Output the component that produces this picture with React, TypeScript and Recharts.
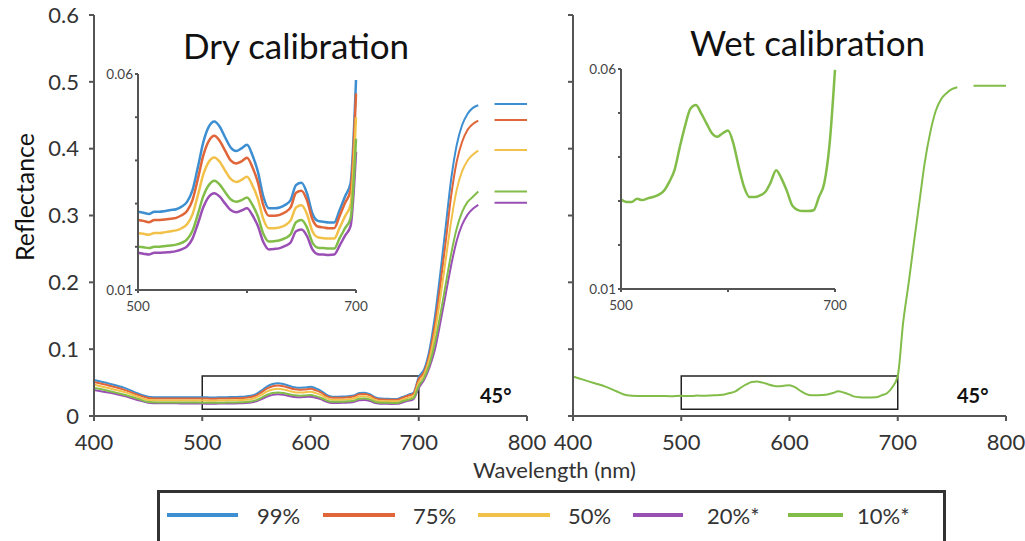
import { LineChart, Line, XAxis, YAxis, ReferenceArea } from "recharts";

// wavelength grid (nm); 762 is the gap in the measured curve
const wavelengths = [
  400, 410, 420, 430, 440, 450, 460, 470, 480, 490,
  500, 505, 510, 515, 520, 525, 530, 535, 540, 545, 550, 555, 560, 565, 570, 575, 580, 585, 590, 595,
  600, 605, 610, 615, 620, 625, 630, 635, 640, 645, 650, 655, 660, 665, 670, 675, 680, 685, 690, 695, 700,
  705, 710, 715, 720, 725, 730, 735, 740, 745, 750, 755,
  762, 770, 785, 800,
];

const dry99 = [
  0.054, 0.05, 0.046, 0.041, 0.034, 0.029, 0.028, 0.028, 0.028, 0.028,
  0.0281, 0.0279, 0.0276, 0.0281, 0.0281, 0.0283, 0.0285, 0.0287, 0.0293, 0.0304,
  0.0331, 0.0385, 0.0443, 0.0478, 0.049, 0.0478, 0.0453, 0.043, 0.0422, 0.0428,
  0.0436, 0.0412, 0.0374, 0.0316, 0.0289, 0.0289, 0.0291, 0.0297, 0.0308, 0.0343,
  0.0348, 0.0324, 0.0277, 0.026, 0.0258, 0.0256, 0.0256, 0.0285, 0.0317, 0.0347, 0.0586,
  0.07, 0.1, 0.15, 0.215, 0.285, 0.355, 0.405, 0.435, 0.452, 0.461, 0.465,
  null, 0.467, 0.467, 0.467,
];

const dry75 = [
  0.051, 0.047, 0.043, 0.038, 0.032, 0.027, 0.026, 0.026, 0.026, 0.026,
  0.0262, 0.026, 0.0257, 0.0262, 0.0262, 0.0263, 0.0265, 0.0267, 0.0273, 0.0283,
  0.0308, 0.0358, 0.0412, 0.0445, 0.0457, 0.0445, 0.0422, 0.04, 0.0393, 0.0398,
  0.0406, 0.0384, 0.0349, 0.0296, 0.0272, 0.0272, 0.0274, 0.028, 0.0291, 0.0325,
  0.033, 0.0308, 0.0264, 0.0247, 0.0245, 0.0243, 0.0243, 0.0272, 0.0302, 0.033, 0.0555,
  0.066, 0.093, 0.138, 0.197, 0.262, 0.33, 0.38, 0.41, 0.428, 0.437, 0.442,
  null, 0.443, 0.443, 0.443,
];

const dry50 = [
  0.047, 0.043, 0.039, 0.035, 0.029, 0.024, 0.0233, 0.0233, 0.0233, 0.0232,
  0.0232, 0.023, 0.0228, 0.0232, 0.0232, 0.0234, 0.0236, 0.0238, 0.0243, 0.0252,
  0.0275, 0.032, 0.0368, 0.0397, 0.0407, 0.0397, 0.0376, 0.0357, 0.035, 0.0355,
  0.0362, 0.0342, 0.0311, 0.0264, 0.0243, 0.0243, 0.0245, 0.025, 0.0261, 0.0291,
  0.0296, 0.0276, 0.0236, 0.0222, 0.022, 0.0219, 0.0219, 0.0244, 0.0271, 0.0297, 0.05,
  0.062, 0.086, 0.125, 0.178, 0.235, 0.292, 0.338, 0.366, 0.382, 0.391, 0.397,
  null, 0.398, 0.398, 0.398,
];

const dry20 = [
  0.039, 0.036, 0.033, 0.029, 0.024, 0.02, 0.019, 0.019, 0.0188, 0.0187,
  0.0186, 0.0184, 0.0182, 0.0186, 0.0186, 0.0187, 0.0188, 0.019, 0.0194, 0.0201,
  0.0219, 0.0254, 0.0292, 0.0316, 0.0324, 0.0316, 0.03, 0.0285, 0.028, 0.0284,
  0.0289, 0.0273, 0.0248, 0.0211, 0.0194, 0.0195, 0.0197, 0.0202, 0.021, 0.0236,
  0.024, 0.0225, 0.0194, 0.0183, 0.0182, 0.0181, 0.0182, 0.0203, 0.0226, 0.0248, 0.042,
  0.054, 0.073, 0.1, 0.14, 0.183, 0.226, 0.262, 0.286, 0.301, 0.31, 0.316,
  null, 0.319, 0.319, 0.319,
];

const dry10 = [
  0.042, 0.039, 0.035, 0.031, 0.026, 0.021, 0.0203, 0.0202, 0.0202, 0.0201,
  0.02, 0.0199, 0.0197, 0.02, 0.02, 0.0202, 0.0203, 0.0205, 0.0209, 0.0217,
  0.0237, 0.0276, 0.0318, 0.0343, 0.0353, 0.0344, 0.0326, 0.031, 0.0304, 0.0308,
  0.0314, 0.0297, 0.027, 0.023, 0.0212, 0.0213, 0.0215, 0.022, 0.0229, 0.0257,
  0.0262, 0.0245, 0.021, 0.0198, 0.0197, 0.0196, 0.0196, 0.022, 0.0243, 0.0266, 0.045,
  0.057, 0.078, 0.11, 0.152, 0.198, 0.243, 0.28, 0.305, 0.32, 0.328, 0.336,
  null, 0.336, 0.336, 0.336,
];

const wet10 = [
  0.059, 0.054, 0.049, 0.044, 0.037, 0.031, 0.03, 0.0298, 0.03, 0.0296,
  0.0303, 0.0298, 0.0298, 0.0305, 0.0302, 0.0306, 0.0309, 0.0314, 0.0323, 0.0343,
  0.037, 0.0423, 0.0472, 0.051, 0.0518, 0.0499, 0.0476, 0.0454, 0.0446, 0.0454,
  0.046, 0.0431, 0.0378, 0.0332, 0.0309, 0.0309, 0.0313, 0.0321, 0.0343, 0.037,
  0.0351, 0.0323, 0.029, 0.028, 0.0277, 0.0277, 0.0279, 0.0309, 0.0341, 0.0431, 0.0598,
  0.14, 0.198, 0.26, 0.32, 0.38, 0.424, 0.456, 0.474, 0.483, 0.489, 0.492,
  null, 0.494, 0.494, 0.494,
];

const seriesNames = ["99%", "75%", "50%", "20%*", "10%*"];
const seriesColors = ["#3d8fd1", "#e0663a", "#f2c14a", "#9a4fb5", "#82bd4a"];
const dryKeys = ["d99", "d75", "d50", "d20", "d10"];

const mainXTicks = [400, 500, 600, 700, 800];
const mainYTicks = [0, 0.1, 0.2, 0.3, 0.4, 0.5, 0.6];
const insetXTicks = [500, 600, 700];
const insetYTicks = [0.01, 0.02, 0.03, 0.04, 0.05, 0.06];

const rows = wavelengths.map((wl, i) => ({
  wl,
  d99: dry99[i],
  d75: dry75[i],
  d50: dry50[i],
  d20: dry20[i],
  d10: dry10[i],
  w10: wet10[i],
}));
const insetRows = rows.filter((r) => r.wl >= 500 && r.wl <= 700);

const FONT = "Lato, 'Open Sans', sans-serif";
const AXIS = "#555";
const blank = () => "";

type MainProps = { left: number; width: number; yw: number; keys: string[]; colors: string[]; labels: boolean };

const MainPanel = ({ left, width, yw, keys, colors, labels }: MainProps) => (
  <div style={{ position: "absolute", left, top: 0 }}>
    <LineChart width={width} height={460} data={rows} margin={{ top: 15, right: width - yw - 433, bottom: 0, left: 0 }}>
      <XAxis
        dataKey="wl"
        type="number"
        domain={[400, 800]}
        ticks={mainXTicks}
        height={44}
        stroke={AXIS}
        strokeWidth={2}
        tickSize={5}
        tickMargin={13}
        tick={{ fontSize: 22, fill: "#333", fontFamily: FONT }}
      />
      <XAxis
        xAxisId="top"
        orientation="top"
        dataKey="wl"
        type="number"
        domain={[400, 800]}
        ticks={mainXTicks}
        height={0}
        stroke={AXIS}
        strokeWidth={2}
        tickSize={4}
        tickFormatter={blank}
      />
      <YAxis
        type="number"
        domain={[0, 0.6]}
        ticks={mainYTicks}
        width={yw}
        stroke={AXIS}
        strokeWidth={2}
        tickSize={5}
        tickMargin={labels ? 10 : 0}
        tickFormatter={labels ? (v: number) => String(v) : blank}
        tick={{ fontSize: 22, fill: "#333", fontFamily: FONT }}
      />
      <YAxis
        yAxisId="right"
        orientation="right"
        type="number"
        domain={[0, 0.6]}
        ticks={mainYTicks}
        width={0}
        stroke={AXIS}
        strokeWidth={2}
        tickSize={4}
        tickFormatter={blank}
      />
      <ReferenceArea x1={500} x2={700} y1={0.01} y2={0.06} fill="none" fillOpacity={0} stroke="#222" strokeWidth={1.5} />
      {keys.map((k, i) => (
        <Line
          key={k}
          dataKey={k}
          type="monotone"
          stroke={colors[i]}
          strokeWidth={2}
          dot={false}
          isAnimationActive={false}
        />
      ))}
    </LineChart>
  </div>
);

type InsetProps = { left: number; top: number; width: number; height: number; yw: number; keys: string[]; colors: string[] };

const Inset = ({ left, top, width, height, yw, keys, colors }: InsetProps) => (
  <div style={{ position: "absolute", left, top }}>
    <LineChart width={yw + width + 20} height={height + 56} data={insetRows} margin={{ top: 14, right: 20, bottom: 22, left: 0 }}>
      <XAxis
        dataKey="wl"
        type="number"
        domain={[500, 700]}
        ticks={insetXTicks}
        height={20}
        stroke={AXIS}
        strokeWidth={2}
        tickSize={3}
        tickMargin={8}
        tickFormatter={(v: number) => (v === 600 ? "" : String(v))}
        tick={{ fontSize: 13.5, fill: "#444", fontFamily: FONT }}
      />
      <XAxis
        xAxisId="top"
        orientation="top"
        dataKey="wl"
        type="number"
        domain={[500, 700]}
        ticks={insetXTicks}
        height={0}
        stroke={AXIS}
        strokeWidth={2}
        tickSize={3}
        tickFormatter={blank}
      />
      <YAxis
        type="number"
        domain={[0.01, 0.06]}
        ticks={insetYTicks}
        allowDataOverflow
        width={yw}
        stroke={AXIS}
        strokeWidth={2}
        tickSize={3}
        tickMargin={2}
        tickFormatter={(v: number) => (v === 0.01 || v === 0.06 ? v.toFixed(2) : "")}
        tick={{ fontSize: 13.5, fill: "#444", fontFamily: FONT }}
      />
      <YAxis
        yAxisId="right"
        orientation="right"
        type="number"
        domain={[0.01, 0.06]}
        ticks={insetYTicks}
        width={0}
        stroke={AXIS}
        strokeWidth={2}
        tickSize={3}
        tickFormatter={blank}
      />
      {keys.map((k, i) => (
        <Line
          key={k}
          dataKey={k}
          type="monotone"
          stroke={colors[i]}
          strokeWidth={2.5}
          dot={false}
          isAnimationActive={false}
        />
      ))}
    </LineChart>
  </div>
);

const text = (style: React.CSSProperties, content: string) => (
  <div style={{ position: "absolute", fontFamily: FONT, color: "#111", whiteSpace: "nowrap", lineHeight: 1.2, ...style }}>{content}</div>
);

const legendItems = [
  { line: [167, 238], label: 257 },
  { line: [323, 395], label: 413 },
  { line: [478, 550], label: 568 },
  { line: [633, 683], label: 707 },
  { line: [788, 843], label: 857 },
];

export default function App() {
  return (
    <div style={{ position: "absolute", left: 0, top: 0, width: 1025, height: 541, background: "#fff", overflow: "hidden" }}>
      <MainPanel left={0} width={560} yw={94} keys={dryKeys} colors={seriesColors} labels />
      <MainPanel left={540} width={485} yw={33} keys={["w10"]} colors={[seriesColors[4]]} labels={false} />
      <Inset left={100} top={60} width={218} height={216} yw={38} keys={dryKeys} colors={seriesColors} />
      <Inset left={580} top={55} width={214} height={220} yw={41} keys={["w10"]} colors={[seriesColors[4]]} />

      {text({ left: 183, top: 24, fontSize: 35 }, "Dry calibration")}
      {text({ left: 690, top: 21, fontSize: 35 }, "Wet calibration")}
      {text({ left: 480, top: 383, fontSize: 20, fontWeight: 700 }, "45°")}
      {text({ left: 957, top: 383, fontSize: 20, fontWeight: 700 }, "45°")}
      {text({ left: -51, top: 182, fontSize: 25, transform: "rotate(-90deg)", width: 150, textAlign: "center" }, "Reflectance")}
      {text({ left: 473, top: 457, fontSize: 22, color: "#333" }, "Wavelength (nm)")}

      <div style={{ position: "absolute", left: 157, top: 490, width: 783, height: 70, border: "3px solid #333" }} />
      {legendItems.map((it, i) => (
        <div key={seriesNames[i]}>
          <div
            style={{
              position: "absolute",
              left: it.line[0],
              top: 513,
              width: it.line[1] - it.line[0],
              height: 4,
              background: seriesColors[i],
            }}
          />
          {text({ left: it.label, top: 503, fontSize: 22, color: "#333" }, seriesNames[i])}
        </div>
      ))}
    </div>
  );
}
